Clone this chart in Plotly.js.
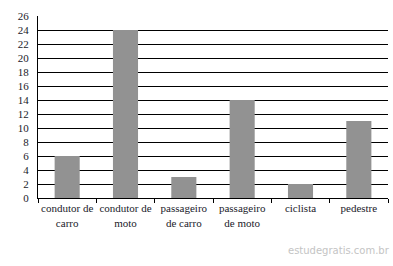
<!DOCTYPE html>
<html>
<head>
<meta charset="utf-8">
<script src="https://cdn.plot.ly/plotly-3.0.1.min.js"></script>
<style>html,body{margin:0;padding:0;background:#fff;}#chart{width:393px;height:266px;}</style>
</head>
<body>
<div id="chart"></div>
<script>
var categories = ["condutor de<br>carro", "condutor de<br>moto", "passageiro<br>de carro", "passageiro<br>de moto", "ciclista", "pedestre"];
var values = [6, 24, 3, 14, 2, 11];
var yTicks = [0, 2, 4, 6, 8, 10, 12, 14, 16, 18, 20, 22, 24, 26];

var serif = "'Liberation Serif', 'DejaVu Serif', serif";

var trace = {
  type: "bar",
  x: categories,
  y: values,
  marker: {
    color: "#929292",
    line: {width: 0}
  },
  hoverinfo: "none"
};

var layout = {
  width: 393,
  height: 266,
  margin: {l: 38, r: 5, t: 16, b: 68},
  paper_bgcolor: "#ffffff",
  plot_bgcolor: "#ffffff",
  showlegend: false,
  bargap: 0.57,
  font: {family: serif, size: 11, color: "#1a1a2a"},
  xaxis: {
    type: "category",
    tickangle: 0,
    showline: true,
    linecolor: "#000",
    linewidth: 1,
    ticks: "outside",
    tickson: "boundaries",
    ticklen: 4,
    tickcolor: "#000",
    tickwidth: 1,
    showgrid: false,
    tickfont: {family: serif, size: 11, color: "#1a1a2a"},
    fixedrange: true
  },
  yaxis: {
    range: [0, 26],
    tickvals: yTicks,
    ticktext: yTicks.map(String),
    showline: true,
    linecolor: "#000",
    linewidth: 1,
    ticks: "",
    ticklabelstandoff: 6,
    showgrid: true,
    gridcolor: "#000",
    gridwidth: 1,
    zeroline: false,
    tickfont: {family: serif, size: 11, color: "#1a1a2a"},
    fixedrange: true
  },
  annotations: [{
    xref: "paper", yref: "paper",
    x: 1.012, y: -0.29,
    xanchor: "right", yanchor: "middle",
    text: "estudegratis.com.br",
    showarrow: false,
    font: {family: "DejaVu Sans, sans-serif", size: 10, color: "#c4c4c4"}
  }]
};

Plotly.newPlot("chart", [trace], layout, {displayModeBar: false, staticPlot: true});
</script>
</body>
</html>
